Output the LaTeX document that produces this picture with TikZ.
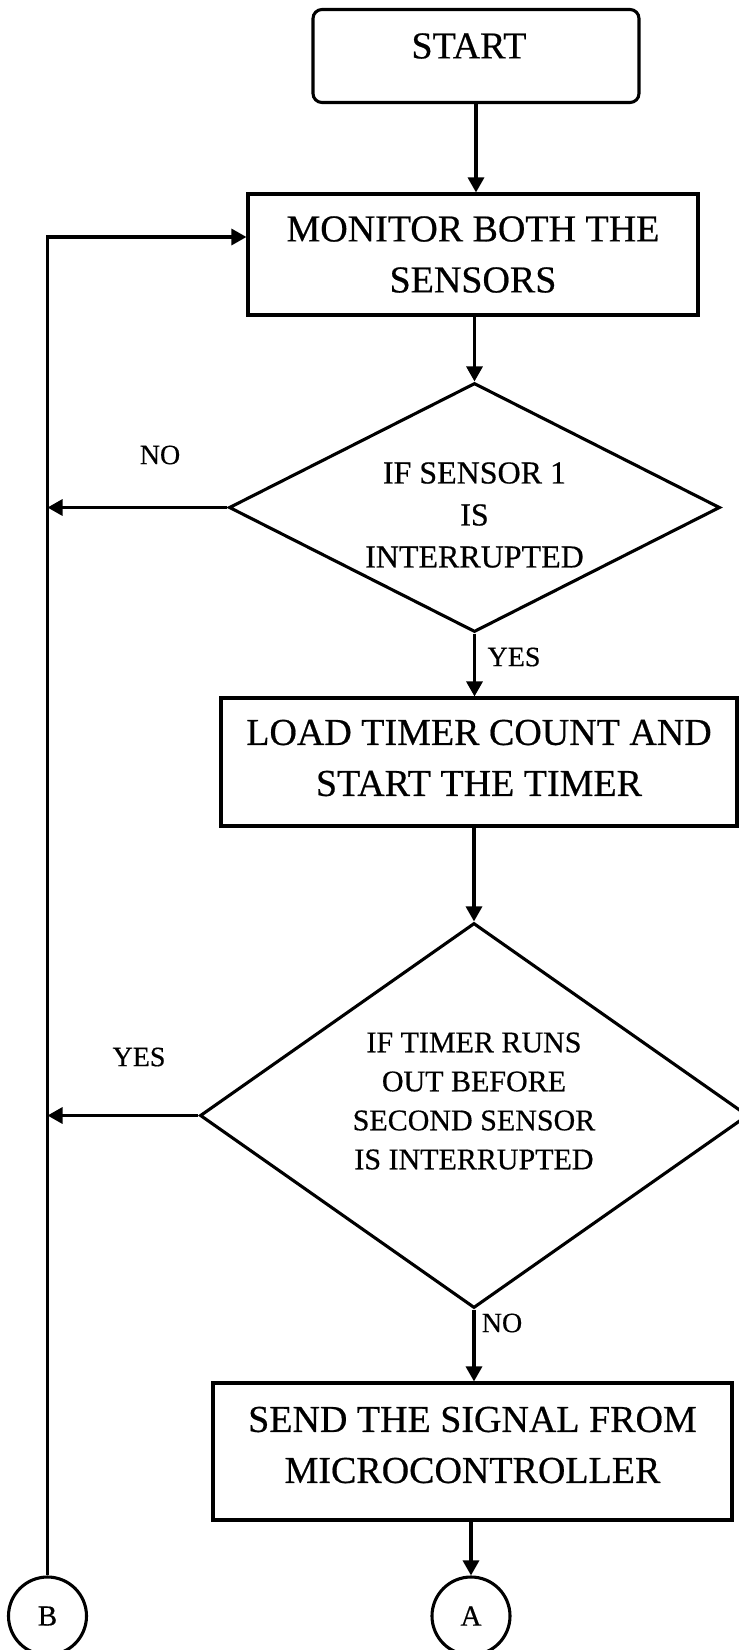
\documentclass[tikz,border=0pt]{standalone}
\usepackage{fontspec}
\setmainfont{Liberation Serif}
\newfontfamily\scanfont[FakeBold=0.5]{Liberation Serif}
\usetikzlibrary{shapes.geometric,arrows.meta}
\begin{document}
\begin{tikzpicture}[x=1pt,y=-1pt,line width=3.1pt,
  arr/.style={-{Triangle[length=15pt,width=16pt]}},
  boxfont/.style={font=\scanfont\fontsize{38}{51}\selectfont},
  startbox/.style={draw,rectangle,rounded corners=9pt,inner sep=0pt},
  procbox/.style={draw,rectangle,inner sep=0pt},
  decbox/.style={draw,diamond,inner sep=0pt},
  conn/.style={draw,ellipse,inner sep=0pt,minimum width=78pt,minimum height=78pt,font=\scanfont\fontsize{29}{34}\selectfont},
  lbl/.style={inner sep=0pt,font=\scanfont\fontsize{28}{32}\selectfont},
  txt/.style={inner sep=0pt,align=center}
]
\useasboundingbox (0,0) rectangle (739,1650);
\clip (0,0) rectangle (739,1650);

\node[startbox,minimum width=326pt,minimum height=93pt,
  label={[txt,boxfont,xshift=-7pt,yshift=10pt]center:START}] (start) at (476,56) {};
\node[procbox,minimum width=450pt,minimum height=121pt,
  label={[txt,boxfont]center:MONITOR BOTH THE\\SENSORS}] (monitor) at (473,254.5) {};
\node[decbox,minimum width=491pt,minimum height=249pt,
  label={[txt,font=\scanfont\fontsize{32}{42}\selectfont,yshift=-7.5pt]center:IF SENSOR 1\\IS\\INTERRUPTED}] (d1) at (474.5,507.5) {};
\node[procbox,minimum width=516pt,minimum height=128pt,
  label={[txt,boxfont,yshift=4pt]center:LOAD TIMER COUNT AND\\START THE TIMER}] (load) at (479,762) {};
\node[decbox,minimum width=548pt,minimum height=385pt,
  label={[txt,font=\scanfont\fontsize{30}{39}\selectfont,yshift=14.5pt]center:IF TIMER RUNS\\OUT BEFORE\\SECOND SENSOR\\IS INTERRUPTED}] (d2) at (474,1115.5) {};
\node[procbox,minimum width=519pt,minimum height=137pt,
  label={[txt,boxfont,yshift=6.5pt]center:SEND THE SIGNAL FROM\\MICROCONTROLLER}] (send) at (472.5,1451.5) {};
\node[conn] (a) at (471,1616) {A};
\node[conn] (b) at (47.5,1616) {B};

\node[lbl] (no1) at (160,455) {NO};
\node[lbl] (yes1) at (514,657) {YES};
\node[lbl] (yes2) at (139,1057) {YES};
\node[lbl] (no2) at (502,1323) {NO};

\coordinate (looptop) at (47.5,237);

\draw[arr] (start.south) -- (start.south |- monitor.north);
\draw[arr] (d1.north |- monitor.south) -- (d1.north);
\draw[arr] (d1.south) -- (d1.south |- load.north);
\draw[arr] (d2.north |- load.south) -- (d2.north);
\draw[arr] (d2.south) -- (d2.south |- send.north);
\draw[arr] (a.north |- send.south) -- (a.north);
\draw[arr] (b.north) -- (looptop) -- (looptop -| monitor.west);
\draw[arr] (d1.west) -- (d1.west -| b.north);
\draw[arr] (d2.west) -- (d2.west -| b.north);
\end{tikzpicture}
\end{document}
